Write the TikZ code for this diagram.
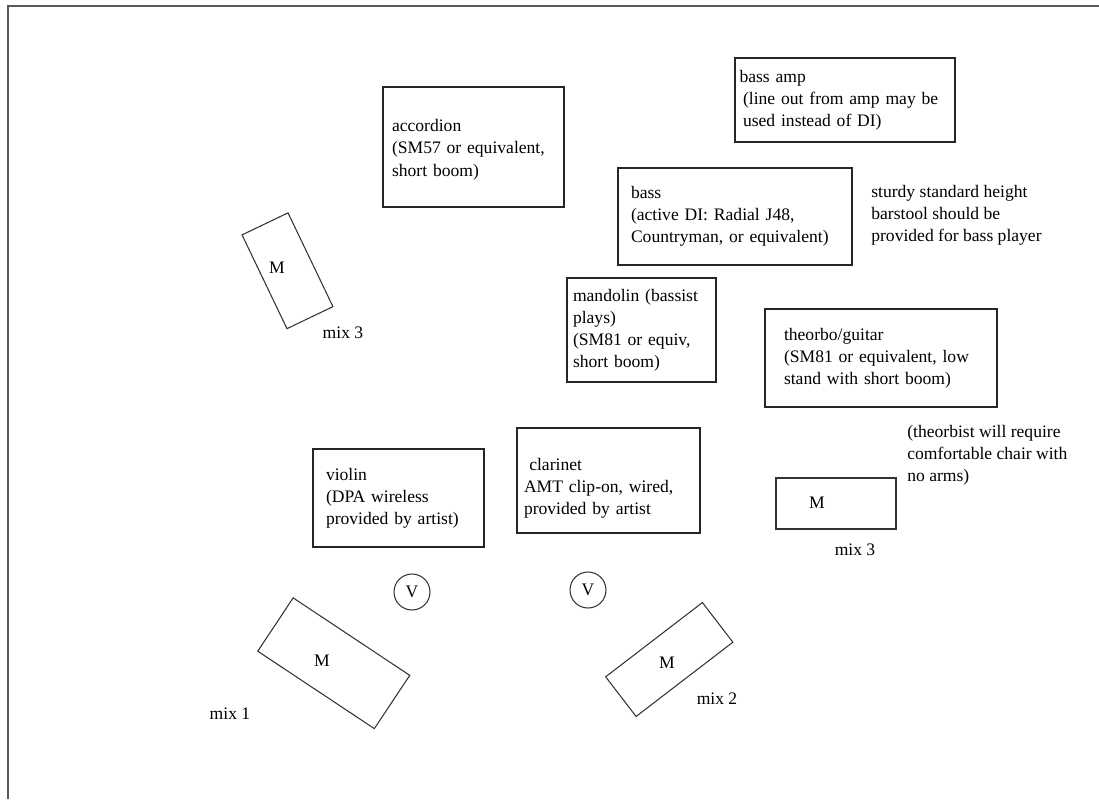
\documentclass[tikz,border=0pt]{standalone}
\usepackage{fontspec}
\setmainfont{Liberation Serif}
\newcommand{\notesize}{\fontsize{10}{12.6}\selectfont}
\tikzset{
  instbox/.style={draw=black!85,line width=0.8pt,align=left,inner xsep=0pt,inner ysep=0pt,font=\notesize},
  monbox/.style={draw=black!80,line width=0.6pt,inner sep=0pt},
  wireless/.style={draw=black!80,line width=0.6pt,circle,minimum size=0.72cm,inner sep=0pt,font=\notesize},
  note/.style={align=left,inner sep=0pt,font=\notesize},
  tag/.style={inner sep=0pt,font=\notesize}
}
\begin{document}
\begin{tikzpicture}[x=0.02cm,y=-0.02cm]
\useasboundingbox (0,0) rectangle (1099,799);
% outer frame, only top and left edges show
\draw[black!65,line width=1.2pt] (8,799) -- (8,6) -- (1099,6);

% instruments
\node[instbox,minimum width=3.62cm,minimum height=2.4cm,text width=3.26cm] (accordion) at (473.5,147) {\rule{0pt}{10pt}accordion\\(SM57 or equivalent,\\short boom)};
\node[instbox,minimum width=4.4cm,minimum height=1.68cm,text width=4.22cm] (bassamp) at (845,100) {bass amp\\\hspace*{2pt}(line out from amp may be\\\hspace*{2pt}used instead of DI)};
\node[instbox,minimum width=4.68cm,minimum height=1.94cm,text width=4.16cm] (bass) at (735,216.5) {bass\\(active DI: Radial J48,\\Countryman, or equivalent)};
\node[instbox,minimum width=2.98cm,minimum height=2.08cm,text width=2.74cm] (mandolin) at (641.5,330) {mandolin (bassist\\plays)\\(SM81 or equiv,\\short boom)};
\node[instbox,minimum width=4.64cm,minimum height=1.96cm,text width=3.88cm] (theorbo) at (881,358) {theorbo/guitar\\(SM81 or equivalent, low\\stand with short boom)};
\node[instbox,minimum width=3.42cm,minimum height=1.96cm,text width=2.9cm] (violin) at (398.5,498) {violin\\(DPA wireless\\provided by artist)};
\node[instbox,minimum width=3.66cm,minimum height=2.1cm,text width=3.38cm] (clarinet) at (608.5,480.5) {\rule{0pt}{16pt}\hspace*{3pt}clarinet\\AMT clip-on, wired,\\provided by artist};

% notes
\node[note,anchor=west] (barstool) at (871,215) {sturdy standard height\\barstool should be\\provided for bass player};
\node[note,anchor=west] (chair) at (907,455) {(theorbist will require\\comfortable chair with\\no arms)};

% wireless receivers
\node[wireless] (vviolin) at (412,592) {V};
\node[wireless] (vclarinet) at (588,590) {V};

% monitors
\node[monbox,minimum width=1.02cm,minimum height=2.08cm,rotate=25.6] (monleft) at (287.5,270.75) {};
\node[monbox,minimum width=2.8cm,minimum height=1.28cm,rotate=-33.6] (monone) at (333.75,663.25) {};
\node[monbox,minimum width=2.44cm,minimum height=1.0cm,rotate=37.5] (montwo) at (669.25,659.5) {};
\node[monbox,minimum width=2.4cm,minimum height=1.02cm] (monright) at (836,503.5) {};

\node[tag] (mleft) at (277,268) {M};
\node[tag] (mone) at (322,661) {M};
\node[tag] (mtwo) at (667,663) {M};
\node[tag] (mright) at (817,503) {M};

\node[tag] (mixleft) at (343,333) {mix 3};
\node[tag] (mixone) at (230,714) {mix 1};
\node[tag] (mixtwo) at (717,699) {mix 2};
\node[tag] (mixright) at (855,550) {mix 3};
\end{tikzpicture}
\end{document}
